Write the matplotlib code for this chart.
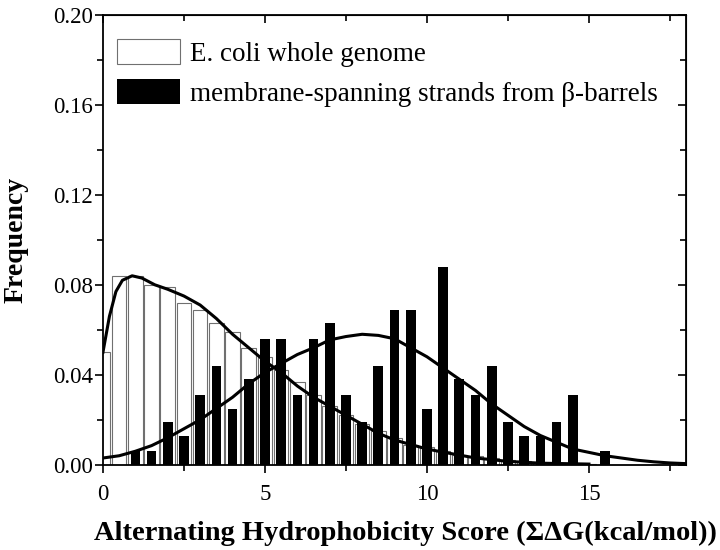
import matplotlib
matplotlib.use("Agg")
import matplotlib.pyplot as plt
from matplotlib.ticker import MultipleLocator, FormatStrFormatter
from matplotlib.patches import Patch

plt.rcParams['font.family'] = ['Liberation Serif', 'DejaVu Serif']

# histogram bins (centres, kcal/mol)
bin_centers = [0.0, 0.5, 1.0, 1.5, 2.0, 2.5, 3.0, 3.5, 4.0, 4.5, 5.0, 5.5,
               6.0, 6.5, 7.0, 7.5, 8.0, 8.5, 9.0, 9.5, 10.0, 10.5, 11.0, 11.5,
               12.0, 12.5, 13.0, 13.5, 14.0, 14.5, 15.0, 15.5]

ecoli_freq = [0.050, 0.084, 0.084, 0.080, 0.079, 0.072, 0.069, 0.063, 0.059,
              0.052, 0.048, 0.042, 0.037, 0.031, 0.026, 0.022, 0.018, 0.015,
              0.012, 0.009, 0.008, 0.006, 0.0045, 0.004, 0.003, 0.002, 0.0015,
              0.001, 0.001, 0.0005, 0.0005, 0.0]

barrel_freq = [0.0, 0.0, 0.006, 0.006, 0.019, 0.013, 0.031, 0.044, 0.025,
               0.038, 0.056, 0.056, 0.031, 0.056, 0.063, 0.031, 0.019, 0.044,
               0.069, 0.069, 0.025, 0.088, 0.038, 0.031, 0.044, 0.019, 0.013,
               0.013, 0.019, 0.031, 0.0, 0.006]

# fitted curves
ecoli_fit_x = [0.0, 0.2, 0.4, 0.6, 0.9, 1.2, 1.6, 2.0, 2.5, 3.0, 3.5, 4.0,
               4.5, 5.0, 5.5, 6.0, 6.5, 7.0, 7.5, 8.0, 8.5, 9.0, 9.5, 10.0,
               10.5, 11.0, 11.5, 12.5, 13.5, 15.0]
ecoli_fit_y = [0.050, 0.066, 0.077, 0.082, 0.084, 0.083, 0.080, 0.078, 0.075,
               0.071, 0.065, 0.058, 0.052, 0.046, 0.041, 0.035, 0.030, 0.026,
               0.022, 0.018, 0.014, 0.011, 0.009, 0.007, 0.0056, 0.0043,
               0.003, 0.0015, 0.0007, 0.0003]

barrel_fit_x = [0.0, 0.5, 1.0, 1.5, 2.0, 2.5, 3.0, 3.5, 4.0, 4.5, 5.0, 5.5,
                6.0, 6.5, 7.0, 7.5, 8.0, 8.5, 9.0, 9.5, 10.0, 10.5, 11.0,
                11.5, 12.0, 12.5, 13.0, 13.5, 14.0, 14.5, 15.0, 15.5, 16.0,
                16.5, 17.0, 17.5, 18.0]
barrel_fit_y = [0.003, 0.004, 0.006, 0.0085, 0.012, 0.016, 0.020, 0.025,
                0.030, 0.036, 0.041, 0.045, 0.049, 0.052, 0.0555, 0.057,
                0.058, 0.0575, 0.056, 0.052, 0.048, 0.043, 0.038, 0.033,
                0.027, 0.022, 0.017, 0.013, 0.010, 0.007, 0.0055, 0.004,
                0.003, 0.002, 0.0013, 0.0008, 0.0005]

fig = plt.figure(figsize=(7.2, 5.5), dpi=100)
ax = fig.add_axes([0.143, 0.155, 0.81, 0.818])

ax.bar(bin_centers, ecoli_freq, width=0.45, facecolor='white',
       edgecolor='#707070', linewidth=0.8, zorder=2)
ax.bar(bin_centers, barrel_freq, width=0.3, color='black', zorder=3)
ax.plot(ecoli_fit_x, ecoli_fit_y, color='black', lw=2.2, zorder=4)
ax.plot(barrel_fit_x, barrel_fit_y, color='black', lw=2.2, zorder=4)

ax.set_xlim(0, 18)
ax.set_ylim(0, 0.20)
ax.xaxis.set_major_locator(MultipleLocator(5))
ax.xaxis.set_minor_locator(MultipleLocator(2.5))
ax.yaxis.set_major_locator(MultipleLocator(0.04))
ax.yaxis.set_minor_locator(MultipleLocator(0.02))
ax.yaxis.set_major_formatter(FormatStrFormatter('%.2f'))
ax.tick_params(which='both', direction='out', labelsize=16.5, width=1.2)
ax.tick_params(which='major', length=6)
ax.tick_params(which='minor', length=4)
ax.tick_params(axis='x', pad=8)
ax.tick_params(axis='y', pad=1)
for s in ax.spines.values():
    s.set_linewidth(1.3)

# top and right ticks point inwards
top = ax.secondary_xaxis('top')
top.xaxis.set_major_locator(MultipleLocator(5))
top.xaxis.set_minor_locator(MultipleLocator(2.5))
top.tick_params(which='both', direction='in', labeltop=False, width=1.2)
top.tick_params(which='major', length=6)
top.tick_params(which='minor', length=4)
right = ax.secondary_yaxis('right')
right.yaxis.set_major_locator(MultipleLocator(0.04))
right.yaxis.set_minor_locator(MultipleLocator(0.02))
right.tick_params(which='both', direction='in', labelright=False, width=1.2)
right.tick_params(which='major', length=6)
right.tick_params(which='minor', length=4)

ax.set_xlabel('Alternating Hydrophobicity Score (ΣΔG(kcal/mol))',
              fontsize=20.5, fontweight='bold', labelpad=12)
ax.xaxis.set_label_coords(0.518, -0.125)
ax.set_ylabel('Frequency', fontsize=20, fontweight='bold', labelpad=18)

handles = [Patch(facecolor='white', edgecolor='#707070', linewidth=0.8),
           Patch(facecolor='black')]
ax.legend(handles, ['E. coli whole genome',
                    'membrane-spanning strands from β-barrels'],
          loc='upper left', bbox_to_anchor=(-0.017, 1.0), frameon=False,
          fontsize=19.5, handlelength=2.3, handleheight=1.05,
          handletextpad=0.37, labelspacing=0.45, borderaxespad=0.5)

fig.savefig('out.png', dpi=100)
